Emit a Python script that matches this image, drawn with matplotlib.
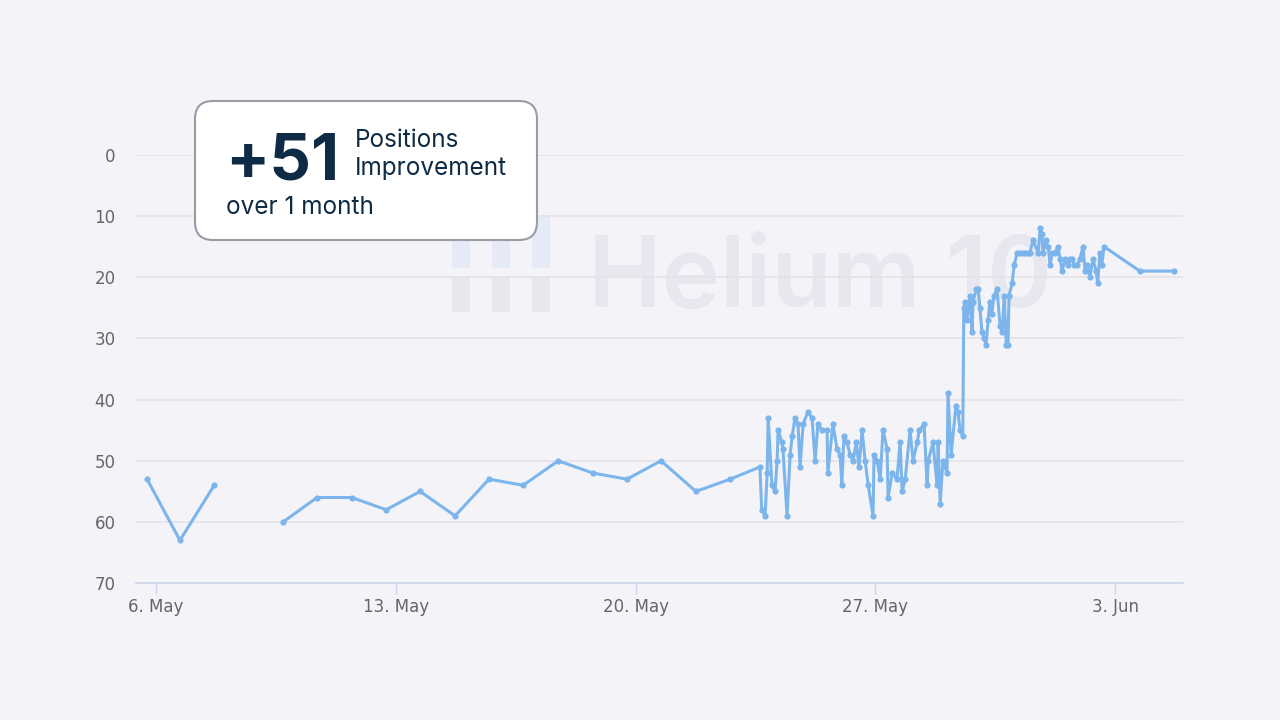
import numpy as np
import pandas as pd
import matplotlib
matplotlib.use("Agg")
import matplotlib.pyplot as plt
import matplotlib.dates as mdates
from matplotlib.patches import FancyBboxPatch, Rectangle

# keyword rank over time (days after 6 May 2024, rank position)
start_date = "2024-05-06"
daily_days = [-0.26, 0.70, 1.70, 2.70, 3.71, 4.70, 5.72, 6.72, 7.71, 8.73, 9.72,
              10.72, 11.74, 12.75, 13.75, 14.74, 15.76, 16.76, 17.63]
daily_rank = [53, 63, 54, np.nan, 60, 56, 56, 58, 55, 59, 53,
              54, 50, 52, 53, 50, 55, 53, 51]

hourly_days = [17.68, 17.78, 17.84, 17.87, 17.98, 18.07, 18.13, 18.16, 18.27, 18.30,
               18.42, 18.51, 18.57, 18.65, 18.74, 18.80, 18.89, 19.03, 19.15, 19.24,
               19.32, 19.44, 19.59, 19.61, 19.76, 19.88, 19.97, 20.02, 20.08, 20.17,
               20.26, 20.35, 20.44, 20.52, 20.61, 20.70, 20.79, 20.93, 20.96, 21.05,
               21.14, 21.22, 21.34, 21.37, 21.49, 21.63, 21.72, 21.78, 21.87, 22.01,
               22.10, 22.22, 22.28, 22.42, 22.51, 22.54, 22.68, 22.80, 22.83, 22.89,
               22.97, 23.09, 23.12, 23.21, 23.35, 23.41, 23.47, 23.55, 23.58, 23.61,
               23.67, 23.76, 23.82, 23.85, 23.94, 24.00, 24.05, 24.11, 24.17, 24.23,
               24.29, 24.34, 24.40, 24.46, 24.55, 24.64, 24.70, 24.76, 24.82, 24.87,
               24.90, 24.99, 25.05, 25.14, 25.22, 25.30, 25.37, 25.44, 25.51, 25.60,
               25.75, 25.81, 25.86, 25.89, 25.98, 26.04, 26.10, 26.16, 26.24, 26.33,
               26.39, 26.45, 26.54, 26.62, 26.68, 26.74, 26.80, 26.89, 26.97, 27.06,
               27.12, 27.18, 27.26, 27.35, 27.44, 27.49, 27.55, 27.61]
hourly_rank = [58, 59, 52, 43, 54, 55, 50, 45, 47, 48,
               59, 49, 46, 43, 44, 51, 44, 42, 43, 50,
               44, 45, 45, 52, 44, 48, 49, 54, 46, 47,
               49, 50, 47, 51, 45, 50, 54, 59, 49, 50,
               53, 45, 48, 56, 52, 53, 47, 55, 53, 45,
               50, 47, 45, 44, 54, 50, 47, 54, 47, 57,
               50, 52, 39, 49, 41, 42, 45, 46, 25, 24,
               27, 23, 29, 24, 22, 22, 25, 29, 30, 31,
               27, 24, 26, 23, 22, 28, 29, 23, 31, 31,
               23, 21, 18, 16, 16, 16, 16, 16, 16, 14,
               16, 12, 13, 16, 14, 15, 18, 16, 16, 15,
               17, 19, 17, 18, 17, 17, 18, 18, 17, 15,
               19, 18, 20, 17, 19, 21, 16, 18]

end_days = [27.67, 28.72, 29.72]
end_rank = [15, 19, 19]

x_start, x_end = -0.57, 29.97
y_ticks = [0, 10, 20, 30, 40, 50, 60, 70]

headline = "+51"
headline_sub = ["Positions", "Improvement"]
headline_foot = "over 1 month"
watermark = "Helium 10"

bg = "#f4f4f8"
line_color = "#7cb5ec"
navy = "#0e2b45"

days = daily_days + hourly_days + end_days
rank = daily_rank + hourly_rank + end_rank
base = pd.Timestamp(start_date)
x = base + pd.to_timedelta(days, unit="D")

fig = plt.figure(figsize=(12.8, 7.2), dpi=100, facecolor=bg)
ax = fig.add_axes([0.1066, 0.19, 0.8174, 0.595])
ax.patch.set_visible(False)

# watermark, drawn behind the axes
wm_color = "#e7e8ef"
fig.text(5.88, 4.13, watermark, transform=fig.dpi_scale_trans, fontsize=71,
         family="Inter", weight="semibold", color=wm_color, va="baseline",
         ha="left", zorder=-1)
for cx in [4.52, 4.92, 5.32]:
    fig.patches.append(Rectangle((cx, 4.52), 0.18, 0.53, transform=fig.dpi_scale_trans,
                                 facecolor="#e6eaf6", edgecolor="none", zorder=-1))
    fig.patches.append(Rectangle((cx, 4.08), 0.18, 0.35, transform=fig.dpi_scale_trans,
                                 facecolor="#e7e7ee", edgecolor="none", zorder=-1))

ax.plot(x, rank, color=line_color, lw=2.2, marker="o", markersize=4.5,
        markeredgewidth=0, zorder=3)

ax.set_ylim(70, 0)
ax.set_yticks(y_ticks)
ax.set_xlim(base + pd.Timedelta(days=x_start), base + pd.Timedelta(days=x_end))
ax.xaxis.set_major_locator(mdates.WeekdayLocator(byweekday=mdates.MO))
ax.xaxis.set_major_formatter(mdates.DateFormatter("%-d. %b"))

ax.grid(axis="y", color="#e3e3e8", lw=1.2)
ax.set_axisbelow(True)
for s in ["top", "right", "left"]:
    ax.spines[s].set_visible(False)
ax.spines["bottom"].set_color("#ccd6eb")
ax.spines["bottom"].set_linewidth(1.2)
ax.tick_params(axis="y", length=0, pad=15, labelsize=12, labelcolor="#666666",
               labelfontfamily="DejaVu Sans")
ax.tick_params(axis="x", length=8, width=1, color="#ccd6eb", pad=3,
               labelsize=12, labelcolor="#666666", labelfontfamily="DejaVu Sans")

# headline box
box = FancyBboxPatch((1.95, 4.80), 3.42, 1.39, boxstyle="round,pad=0,rounding_size=0.18",
                     transform=fig.dpi_scale_trans, facecolor="white",
                     edgecolor="#9b9ba6", lw=1.5, zorder=5)
fig.patches.append(box)
fig.text(2.25, 5.41, headline, transform=fig.dpi_scale_trans, fontsize=47,
         family="Inter", weight="bold", color=navy, va="baseline", zorder=6)
fig.text(3.55, 5.73, headline_sub[0], transform=fig.dpi_scale_trans, fontsize=17.5,
         family="Inter", color=navy, va="baseline", zorder=6)
fig.text(3.55, 5.45, headline_sub[1], transform=fig.dpi_scale_trans, fontsize=17.5,
         family="Inter", color=navy, va="baseline", zorder=6)
fig.text(2.26, 5.06, headline_foot, transform=fig.dpi_scale_trans, fontsize=17.5,
         family="Inter", color=navy, va="baseline", zorder=6)

fig.savefig("out.png", dpi=100, facecolor=bg)
